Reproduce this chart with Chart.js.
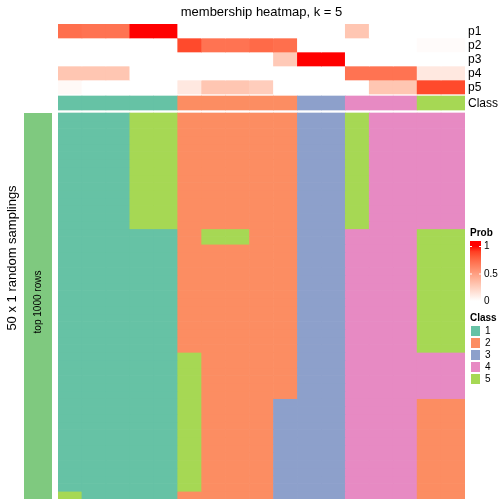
<!DOCTYPE html>
<html><head><meta charset="utf-8">
<script src="https://cdn.jsdelivr.net/npm/chart.js@4.4.0/dist/chart.umd.min.js"></script>
<style>
html,body{margin:0;padding:0;background:#fff;}
#wrap{position:relative;width:504px;height:504px;}
#main{position:absolute;left:0;top:0;}
#side{position:absolute;left:24px;top:113px;}
</style>
</head><body>
<div id="wrap">
<canvas id="main" width="504" height="504"></canvas>
<canvas id="side" width="28" height="386"></canvas>
</div>
<script>
// ---------------- data ----------------
const columns = ["c1","c2","c3","c4","c5","c6","c7","c8","c9","c10","c11","c12","c13","c14","c15","c16","c17"];
const probNames = ["p1","p2","p3","p4","p5"];
const p1 = [0.72,0.70,0.70,1.00,1.00,0,0,0,0,0,0,0,0.30,0,0,0,0];
const p2 = [0,0,0,0,0,0.86,0.70,0.70,0.74,0.72,0,0,0,0,0,0.02,0.02];
const p3 = [0,0,0,0,0,0,0,0,0,0.28,1.00,1.00,0,0,0,0,0];
const p4 = [0.30,0.30,0.30,0,0,0,0,0,0,0,0,0,0.70,0.70,0.70,0.12,0.12];
const p5 = [0.03,0,0,0,0,0.12,0.30,0.30,0.26,0,0,0,0,0.30,0.30,0.86,0.86];
const classRow = [1,1,1,1,1,2,2,2,2,2,3,3,4,4,4,5,5];
const classLabels = ["1","2","3","4","5"];
// 50 random samplings x 17 columns, class per cell
const sampleClasses = [
"11155222223354444","11155222223354444","11155222223354444","11155222223354444","11155222223354444",
"11155222223354444","11155222223354444","11155222223354444","11155222223354444","11155222223354444",
"11155222223354444","11155222223354444","11155222223354444","11155222223354444","11155222223354444",
"11111255223344455","11111255223344455",
"11111222223344455","11111222223344455","11111222223344455","11111222223344455","11111222223344455",
"11111222223344455","11111222223344455","11111222223344455","11111222223344455","11111222223344455",
"11111222223344455","11111222223344455","11111222223344455","11111222223344455",
"11111522223344444","11111522223344444","11111522223344444","11111522223344444","11111522223344444",
"11111522223344444",
"11111522233344422","11111522233344422","11111522233344422","11111522233344422","11111522233344422",
"11111522233344422","11111522233344422","11111522233344422","11111522233344422","11111522233344422",
"11111522233344422","11111522233344422",
"51111222233344422"
];
const sideLabel = ["top 1000 rows"];
const sideValue = [1];

// ---------------- styles ----------------
const classColors = {1:"#66C2A5",2:"#FC8D62",3:"#8DA0CB",4:"#E78AC3",5:"#A6D854"};
const sideColor = "#7FC97F";
const FONT = "'Liberation Sans', Arial, Helvetica, sans-serif";

// LAB interpolation white -> red
function toLin(c){c/=255;return c<=0.04045?c/12.92:Math.pow((c+0.055)/1.055,2.4);}
function toSrgb(c){c=c<=0.0031308?12.92*c:1.055*Math.pow(c,1/2.4)-0.055;return Math.max(0,Math.min(255,Math.round(c*255)));}
function rgb2lab(rgb){
  const [r,g,b]=rgb.map(toLin);
  let X=(0.4124*r+0.3576*g+0.1805*b)/0.95047, Y=(0.2126*r+0.7152*g+0.0722*b), Z=(0.0193*r+0.1192*g+0.9505*b)/1.08883;
  const f=t=>t>0.008856?Math.cbrt(t):7.787*t+16/116;
  const fx=f(X),fy=f(Y),fz=f(Z);
  return [116*fy-16,500*(fx-fy),200*(fy-fz)];
}
function lab2rgb(lab){
  const [L,a,b]=lab;
  const fy=(L+16)/116, fx=fy+a/500, fz=fy-b/200;
  const fi=t=>t*t*t>0.008856?t*t*t:(t-16/116)/7.787;
  const X=0.95047*fi(fx), Y=fi(fy), Z=1.08883*fi(fz);
  const r=3.2406*X-1.5372*Y-0.4986*Z, g=-0.9689*X+1.8758*Y+0.0415*Z, bb=0.0557*X-0.2040*Y+1.0570*Z;
  return [toSrgb(r),toSrgb(g),toSrgb(bb)];
}
const LW=rgb2lab([255,255,255]), LR=rgb2lab([255,0,0]);
function probColor(t){
  const lab=LW.map((v,i)=>v+(LR[i]-v)*t);
  const c=lab2rgb(lab);
  return `rgb(${c[0]},${c[1]},${c[2]})`;
}

// ---------------- layout constants ----------------
const H_ANN = 14, GAP1 = 2, GAP2 = 3, H_MAIN = 386;
const rowH = H_MAIN / sampleClasses.length;

const probRows = [p1,p2,p3,p4,p5];
const datasets = [];
probRows.forEach((arr,i)=>{
  datasets.push({label:probNames[i], data:columns.map(()=>H_ANN), backgroundColor:arr.map(probColor), kind:"ann"});
});
datasets.push({label:"gap1", data:columns.map(()=>GAP1), backgroundColor:"rgba(0,0,0,0)", kind:"gap"});
datasets.push({label:"Class", data:columns.map(()=>H_ANN), backgroundColor:classRow.map(c=>classColors[c]), kind:"ann"});
datasets.push({label:"gap2", data:columns.map(()=>GAP2), backgroundColor:"rgba(0,0,0,0)", kind:"gap"});
sampleClasses.forEach((row,r)=>{
  datasets.push({label:"s"+(r+1), data:columns.map(()=>rowH), backgroundColor:row.split("").map(c=>classColors[+c]), kind:"main"});
});
const TOTAL = 5*H_ANN + GAP1 + H_ANN + GAP2 + H_MAIN;

const decor = {
  id:"decor",
  afterDraw(chart){
    const ctx=chart.ctx, ca=chart.chartArea;
    ctx.save();
    ctx.fillStyle="#000";
    // title
    ctx.font="13px "+FONT; ctx.textAlign="center"; ctx.textBaseline="middle";
    ctx.fillText("membership heatmap, k = 5",(ca.left+ca.right)/2,12);
    // row labels
    ctx.font="12px "+FONT; ctx.textAlign="left";
    chart.data.datasets.forEach((ds,i)=>{
      if(ds.kind!=="ann") return;
      const el=chart.getDatasetMeta(i).data[columns.length-1];
      ctx.fillText(ds.label, ca.right+3, (el.y+el.base)/2+1);
    });
    // left rotated label
    ctx.save();
    ctx.translate(12,258); ctx.rotate(-Math.PI/2);
    ctx.font="13px "+FONT; ctx.textAlign="center"; ctx.textBaseline="middle";
    ctx.fillText("50 x 1 random samplings",0,0);
    ctx.restore();
    // Prob legend
    const lx=470;
    ctx.font="bold 10px "+FONT; ctx.textAlign="left"; ctx.textBaseline="middle";
    ctx.fillText("Prob",lx,233);
    const gTop=241, gBot=304, tTop=246, tBot=301;
    const grad=ctx.createLinearGradient(0,tBot,0,tTop);
    for(let k=0;k<=10;k++) grad.addColorStop(k/10, probColor(k/10));
    ctx.fillStyle=probColor(0); ctx.fillRect(lx,tBot,11,gBot-tBot);
    ctx.fillStyle=probColor(1); ctx.fillRect(lx,gTop,11,tTop-gTop);
    ctx.fillStyle=grad; ctx.fillRect(lx,tTop,11,tBot-tTop);
    ctx.strokeStyle="#fff"; ctx.lineWidth=1;
    [[1,tTop],[0.5,(tTop+tBot)/2],[0,tBot]].forEach(([v,y])=>{
      ctx.beginPath(); ctx.moveTo(lx,y+0.5); ctx.lineTo(lx+2,y+0.5); ctx.moveTo(lx+9,y+0.5); ctx.lineTo(lx+11,y+0.5); ctx.stroke();
      ctx.fillStyle="#000"; ctx.font="10px "+FONT;
      ctx.fillText(String(v), lx+14, y+0.5);
    });
    // Class legend
    ctx.font="bold 10px "+FONT; ctx.fillStyle="#000";
    ctx.fillText("Class",lx,318);
    const bTop=325, bH=12;
    classLabels.forEach((lab,i)=>{
      ctx.fillStyle=classColors[+lab];
      ctx.fillRect(lx,bTop+i*bH,11,bH);
      ctx.strokeStyle="#fff"; ctx.lineWidth=1;
      ctx.strokeRect(lx+0.5,bTop+i*bH+0.5,10,bH-1);
      ctx.fillStyle="#000"; ctx.font="10px "+FONT;
      ctx.fillText(lab, lx+15, bTop+i*bH+bH/2+0.5);
    });
    ctx.restore();
  }
};

new Chart(document.getElementById("main"),{
  type:"bar",
  data:{labels:columns, datasets},
  options:{
    responsive:false, animation:false, devicePixelRatio:1,
    layout:{padding:{left:58,right:39,top:24,bottom:5}},
    datasets:{bar:{barPercentage:1,categoryPercentage:1,borderWidth:0,borderSkipped:false}},
    scales:{
      x:{type:"category",display:false,stacked:true,grid:{display:false}},
      y:{type:"linear",display:false,stacked:true,min:0,max:TOTAL,reverse:true,grid:{display:false}}
    },
    plugins:{legend:{display:false},tooltip:{enabled:false},title:{display:false}}
  },
  plugins:[decor]
});

const sideText = {
  id:"sideText",
  afterDraw(chart){
    const ctx=chart.ctx, ca=chart.chartArea;
    ctx.save();
    ctx.translate((ca.left+ca.right)/2, (ca.top+ca.bottom)/2-4);
    ctx.rotate(-Math.PI/2);
    ctx.font="10px "+FONT; ctx.fillStyle="#000"; ctx.textAlign="center"; ctx.textBaseline="middle";
    ctx.fillText(sideLabel[0],0,0);
    ctx.restore();
  }
};
new Chart(document.getElementById("side"),{
  type:"bar",
  data:{labels:sideLabel, datasets:[{data:sideValue, backgroundColor:sideColor, borderWidth:0, barPercentage:1, categoryPercentage:1}]},
  options:{
    responsive:false, animation:false, devicePixelRatio:1,
    layout:{padding:0},
    scales:{x:{display:false},y:{display:false,min:0,max:1}},
    plugins:{legend:{display:false},tooltip:{enabled:false}}
  },
  plugins:[sideText]
});
</script>
</body></html>
